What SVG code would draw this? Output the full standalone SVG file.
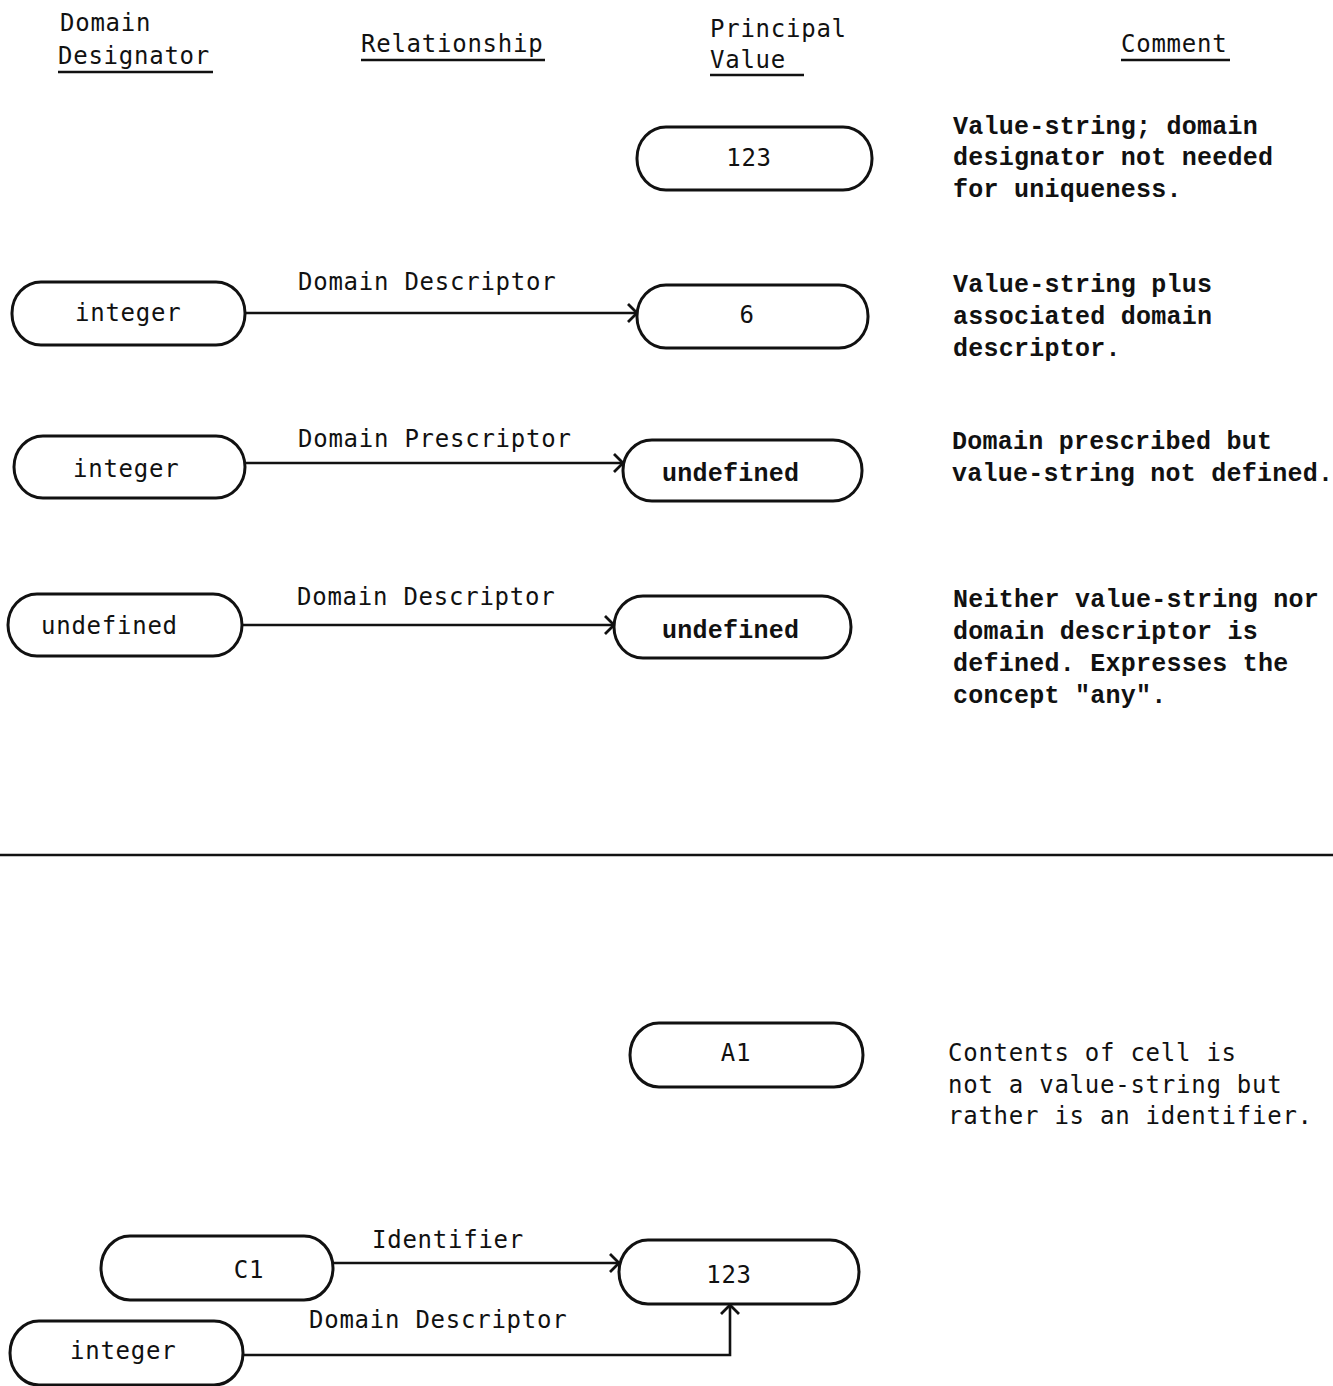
<svg xmlns="http://www.w3.org/2000/svg" width="1333" height="1386" viewBox="0 0 1333 1386">
<defs>
<marker id="chev" markerUnits="userSpaceOnUse" markerWidth="14" markerHeight="22" refX="11" refY="11" orient="auto">
<path d="M2,2 L11,11 L2,20" fill="none" stroke="#111" stroke-width="2.8"/>
</marker>
</defs>
<style>
.bg{fill:#fff}
.node{fill:#fff;stroke:#111;stroke-width:3}
.a{font-family:"DejaVu Sans Mono","Liberation Mono",monospace;font-size:24px;letter-spacing:0.75px;fill:#111}
.c{font-family:"Liberation Mono","DejaVu Sans Mono",monospace;font-size:25px;letter-spacing:0.25px;font-weight:bold;fill:#111}
.mid{text-anchor:middle}
.ul{stroke:#111;stroke-width:2.6}
.conn{fill:none;stroke:#111;stroke-width:2.6}
</style>
<rect class="bg" x="0" y="0" width="1333" height="1386"/>

<g id="headers">
<text class="a" x="60" y="31">Domain</text>
<text class="a" x="58" y="64">Designator</text>
<line class="ul" x1="58" y1="72" x2="213" y2="72"/>
<text class="a" x="361" y="52">Relationship</text>
<line class="ul" x1="361" y1="60" x2="545" y2="60"/>
<text class="a" x="710" y="37">Principal</text>
<text class="a" x="710" y="68">Value</text>
<line class="ul" x1="710" y1="75" x2="804" y2="75"/>
<text class="a" x="1121" y="52">Comment</text>
<line class="ul" x1="1121" y1="60" x2="1230" y2="60"/>
</g>

<g id="connectors">
<line class="conn" x1="245" y1="313" x2="637" y2="313" marker-end="url(#chev)"/>
<text class="a" x="298" y="290">Domain Descriptor</text>
<line class="conn" x1="245" y1="463" x2="623" y2="463" marker-end="url(#chev)"/>
<text class="a" x="298" y="447">Domain Prescriptor</text>
<line class="conn" x1="242" y1="625" x2="614" y2="625" marker-end="url(#chev)"/>
<text class="a" x="297" y="605">Domain Descriptor</text>
<line class="conn" x1="333" y1="1263" x2="619" y2="1263" marker-end="url(#chev)"/>
<text class="a" x="372" y="1248">Identifier</text>
<polyline class="conn" points="243,1355 730,1355 730,1305" marker-end="url(#chev)"/>
<text class="a" x="309" y="1328">Domain Descriptor</text>
</g>

<g id="n-123-top">
<rect class="node" x="637" y="127" width="235" height="63" rx="29" ry="31"/>
<text class="a mid" x="749" y="166">123</text>
</g>
<g id="n-integer-1">
<rect class="node" x="12" y="282" width="233" height="63" rx="29" ry="31"/>
<text class="a" x="75" y="321">integer</text>
</g>
<g id="n-6">
<rect class="node" x="637" y="285" width="231" height="63" rx="29" ry="31"/>
<text class="a mid" x="747" y="323">6</text>
</g>
<g id="n-integer-2">
<rect class="node" x="14" y="436" width="231" height="62" rx="29" ry="31"/>
<text class="a" x="73" y="477">integer</text>
</g>
<g id="n-undefined-1">
<rect class="node" x="623" y="440" width="239" height="61" rx="29" ry="30"/>
<text class="c" x="662" y="481">undefined</text>
</g>
<g id="n-undefined-2">
<rect class="node" x="8" y="594" width="234" height="62" rx="29" ry="31"/>
<text class="a" x="41" y="634">undefined</text>
</g>
<g id="n-undefined-3">
<rect class="node" x="614" y="596" width="237" height="62" rx="29" ry="31"/>
<text class="c" x="662" y="638">undefined</text>
</g>

<line id="separator" x1="0" y1="855" x2="1333" y2="855" stroke="#111" stroke-width="2.6"/>

<g id="n-A1">
<rect class="node" x="630" y="1023" width="233" height="64" rx="29" ry="32"/>
<text class="a mid" x="736" y="1061">A1</text>
</g>
<g id="n-C1">
<rect class="node" x="101" y="1236" width="232" height="64" rx="29" ry="32"/>
<text class="a mid" x="249" y="1278">C1</text>
</g>
<g id="n-123-bottom">
<rect class="node" x="619" y="1240" width="240" height="64" rx="29" ry="32"/>
<text class="a mid" x="729" y="1283">123</text>
</g>
<g id="n-integer-3">
<rect class="node" x="10" y="1321" width="233" height="64" rx="29" ry="32"/>
<text class="a" x="70" y="1359">integer</text>
</g>

<g id="comments">
<text class="c" x="953" y="134">Value-string; domain</text>
<text class="c" x="953" y="165">designator not needed</text>
<text class="c" x="953" y="197">for uniqueness.</text>
<text class="c" x="953" y="292">Value-string plus</text>
<text class="c" x="953" y="324">associated domain</text>
<text class="c" x="953" y="356">descriptor.</text>
<text class="c" x="952" y="449">Domain prescribed but</text>
<text class="c" x="952" y="481">value-string not defined.</text>
<text class="c" x="953" y="607">Neither value-string nor</text>
<text class="c" x="953" y="639">domain descriptor is</text>
<text class="c" x="953" y="671">defined.  Expresses the</text>
<text class="c" x="953" y="703" xml:space="preserve">concept "any".</text>
<text class="a" x="948" y="1061">Contents of cell is</text>
<text class="a" x="948" y="1093">not a value-string but</text>
<text class="a" x="948" y="1124">rather is an identifier.</text>
</g>
</svg>
